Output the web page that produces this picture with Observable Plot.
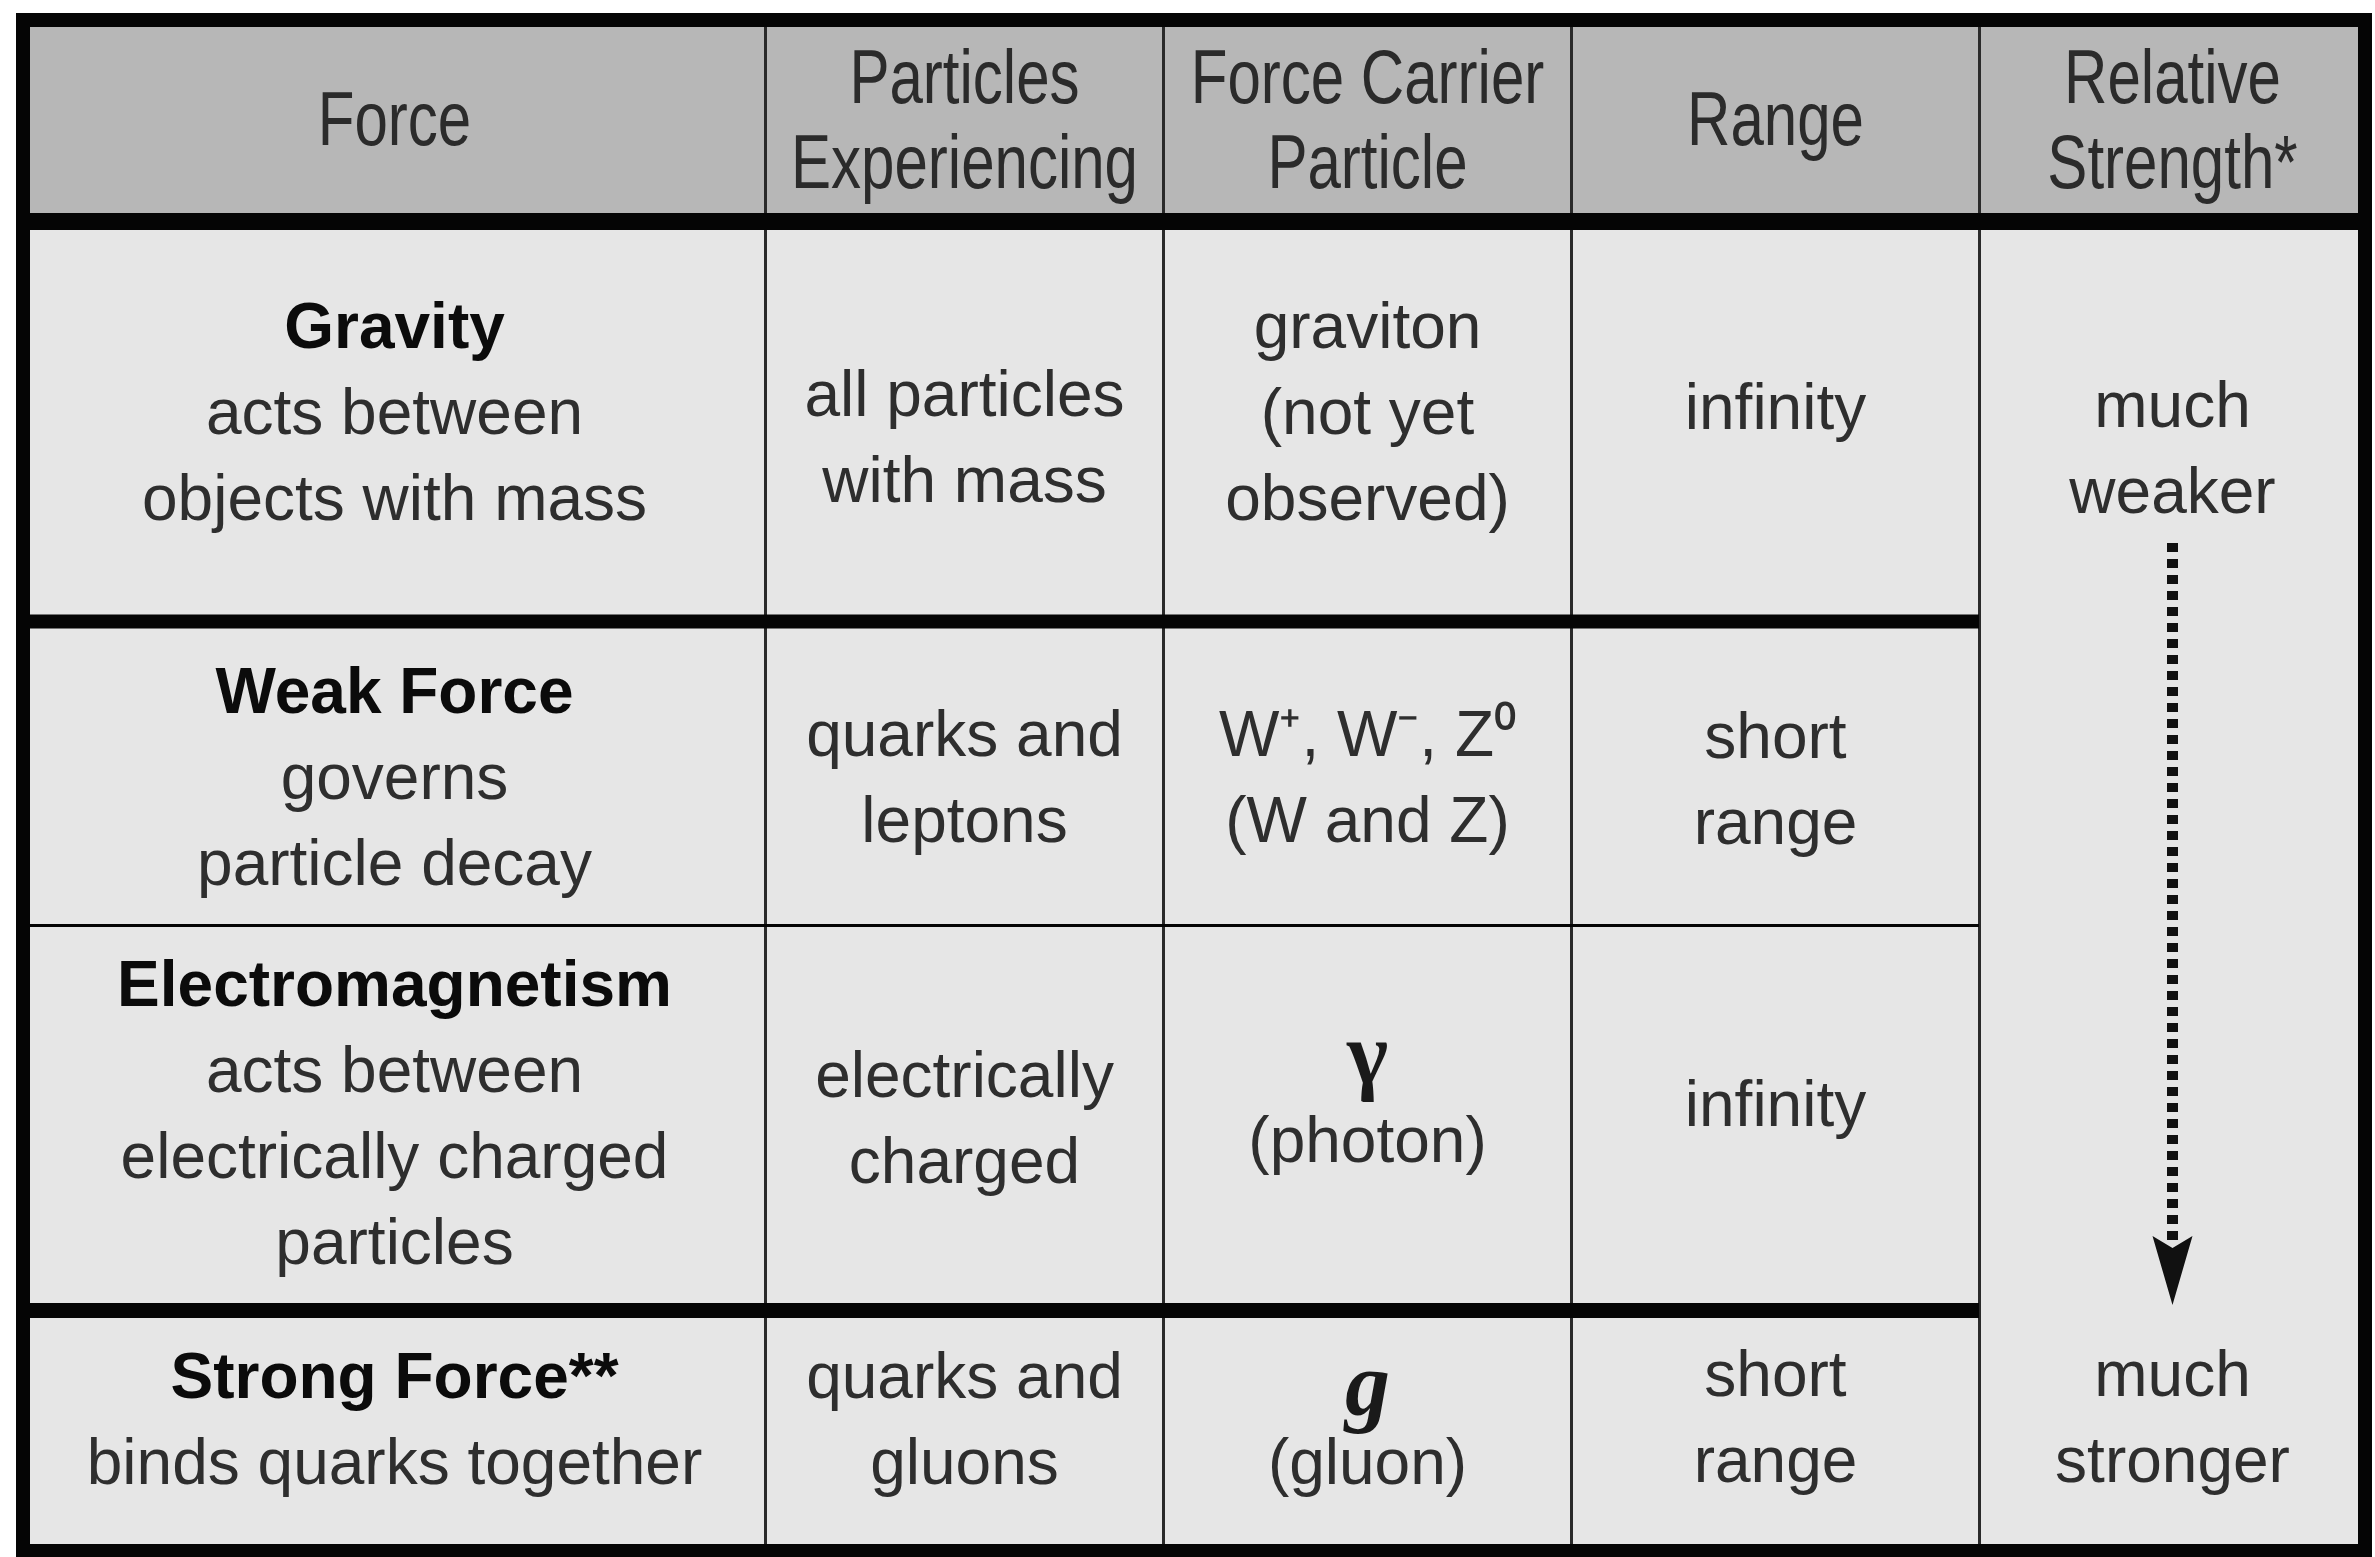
<!DOCTYPE html>
<html>
<head>
<meta charset="utf-8">
<script src="https://cdn.jsdelivr.net/npm/d3@7"></script>
<script src="https://cdn.jsdelivr.net/npm/@observablehq/plot@0.6"></script>
<style>
  html, body { margin: 0; padding: 0; background: #ffffff; overflow: hidden; }
  #chart svg { display: block; }
</style>
</head>
<body>
<div id="chart"></div>
<script>
// ---------------- DATA ----------------
const headers = [["Force"], ["Particles", "Experiencing"], ["Force Carrier", "Particle"], ["Range"], ["Relative", "Strength*"]];
const forces = ["Gravity", "Weak Force", "Electromagnetism", "Strong Force**"];
const descriptions = [
  ["acts between", "objects with mass"],
  ["governs", "particle decay"],
  ["acts between", "electrically charged", "particles"],
  ["binds quarks together"]
];
const particles = [["all particles", "with mass"], ["quarks and", "leptons"], ["electrically", "charged"], ["quarks and", "gluons"]];
const carriers = [["graviton", "(not yet", "observed)"], ["W\u207A, W\u207B, Z\u2070", "(W and Z)"], ["\u03B3", "(photon)"], ["g", "(gluon)"]];
const ranges = [["infinity"], ["short", "range"], ["infinity"], ["short", "range"]];
const strengthEnds = [["much", "weaker"], ["much", "stronger"]];

// ---------------- LAYOUT ----------------
const W = 2375, H = 1557;
const colEdges = [23, 765, 1163, 1571, 1979, 2365];
const rowEdges = [20, 221, 621, 925, 1310, 1551];
const lineStep = 86, headerStep = 85;
const symbolSteps = {2: 71, 3: 65};
const nudge = [[-8, 17, -8, -13], [5, 5, 5, 7], [-3, 2, -12, -12], [-10, -10, 0, -12]];
const strengthNudge = [28, -12];
const arrowGapTop = 51, arrowGapBottom = 71, headLen = 62;
const headerCondense = 0.79;
const symbolLines = new Set(["\u03B3", "g"]);

const cx = c => (colEdges[c] + colEdges[c + 1]) / 2;
const cy = r => (rowEdges[r] + rowEdges[r + 1]) / 2;
function place(lines, x, yc, step, kindOf) {
  const n = lines.length;
  return lines.map((t, i) => ({x, y: yc + (i - (n - 1) / 2) * step, text: t, kind: kindOf(i, t)}));
}

let texts = [];
headers.forEach((h, c) => { texts = texts.concat(place(h, cx(c), cy(0), headerStep, () => "header")); });
for (let r = 0; r < forces.length; r++) {
  const yc = cy(r + 1);
  texts = texts.concat(place([forces[r], ...descriptions[r]], cx(0), yc + nudge[r][0], lineStep, i => i === 0 ? "title" : "body"));
  texts = texts.concat(place(particles[r], cx(1), yc + nudge[r][1], lineStep, () => "body"));
  const cs = symbolLines.has(carriers[r][0]) ? symbolSteps[r] : lineStep;
  texts = texts.concat(place(carriers[r], cx(2), yc + nudge[r][2], cs, (i, t) => t === "\u03B3" ? "gamma" : (t === "g" && i === 0 ? "gluon" : "body")));
  texts = texts.concat(place(ranges[r], cx(3), yc + nudge[r][3], lineStep, () => "body"));
}
const topBlock = place(strengthEnds[0], cx(4), cy(1) + strengthNudge[0], lineStep, () => "body");
const botBlock = place(strengthEnds[1], cx(4), cy(4) + strengthNudge[1], lineStep, () => "body");
texts = texts.concat(topBlock, botBlock);

const arrowStart = topBlock[topBlock.length - 1].y + arrowGapTop;
const arrowTip = botBlock[0].y - arrowGapBottom;
const arrowLine = [{x: cx(4), y1: arrowStart, y2: arrowTip - headLen}];
const arrowHeadPt = [{x: cx(4), y: arrowTip}];
const arrowHead = {
  draw(ctx) {
    ctx.moveTo(0, 0);
    ctx.lineTo(-20, -69);
    ctx.lineTo(0, -57);
    ctx.lineTo(20, -69);
    ctx.closePath();
  }
};

const headerBg = [{x1: colEdges[0], x2: colEdges[5], y1: rowEdges[0], y2: rowEdges[1]}];
const bodyBg = [{x1: colEdges[0], x2: colEdges[5], y1: rowEdges[1], y2: rowEdges[5]}];
const vLines = colEdges.slice(1, -1).map(x => ({x, y1: rowEdges[0], y2: rowEdges[5]}));
const hLines = [
  {y: rowEdges[1], x1: colEdges[0], x2: colEdges[5], w: 17},
  {y: rowEdges[2], x1: colEdges[0], x2: colEdges[4], w: 14},
  {y: rowEdges[3], x1: colEdges[0], x2: colEdges[4], w: 3},
  {y: rowEdges[4], x1: colEdges[0], x2: colEdges[4], w: 15}
];
const frame = [{x1: colEdges[0], x2: colEdges[5], y1: rowEdges[0], y2: rowEdges[5]}];

const SANS = "'Liberation Sans', Arial, Helvetica, sans-serif";
const SERIF = "'Liberation Serif', 'Times New Roman', 'DejaVu Serif', serif";
const byKind = k => texts.filter(d => d.kind === k);

const chart = Plot.plot({
  width: W,
  height: H,
  margin: 0,
  x: {domain: [0, W], range: [0, W], axis: null},
  y: {domain: [0, H], range: [0, H], axis: null},
  style: {background: "#ffffff"},
  marks: [
    Plot.rect(headerBg, {x1: "x1", x2: "x2", y1: "y1", y2: "y2", fill: "#b7b7b7"}),
    Plot.rect(bodyBg, {x1: "x1", x2: "x2", y1: "y1", y2: "y2", fill: "#e6e6e6"}),
    Plot.ruleX(vLines, {x: "x", y1: "y1", y2: "y2", stroke: "#2a2a2a", strokeWidth: 3}),
    Plot.ruleY(hLines, {y: "y", x1: "x1", x2: "x2", stroke: "#050505", strokeWidth: "w"}),
    Plot.rect(frame, {x1: "x1", x2: "x2", y1: "y1", y2: "y2", fill: "none", stroke: "#050505", strokeWidth: 14}),
    Plot.text(byKind("header"), {x: "x", y: "y", text: "text", fontFamily: SANS, fontSize: 76, fill: "#2b2b2b"}),
    Plot.text(byKind("title"), {x: "x", y: "y", text: "text", fontFamily: SANS, fontSize: 64, fontWeight: "bold", fill: "#0b0b0b"}),
    Plot.text(byKind("body"), {x: "x", y: "y", text: "text", fontFamily: SANS, fontSize: 64, fill: "#2e2e2e"}),
    Plot.text(byKind("gamma"), {x: "x", y: "y", text: "text", fontFamily: SERIF, fontSize: 88, fontWeight: "bold", fill: "#1a1a1a", dy: -16}),
    Plot.text(byKind("gluon"), {x: "x", y: "y", text: "text", fontFamily: SERIF, fontSize: 90, fontWeight: "bold", fontStyle: "italic", fill: "#1a1a1a", dy: -12}),
    Plot.ruleX(arrowLine, {x: "x", y1: "y1", y2: "y2", stroke: "#111111", strokeWidth: 11, strokeDasharray: "9,7"}),
    Plot.dot(arrowHeadPt, {x: "x", y: "y", symbol: arrowHead, r: 10, fill: "#111111", stroke: "none"})
  ]
});

// condense the header lettering horizontally (the reference uses a condensed face)
const headerSet = new Set(headers.flat());
d3.select(chart).selectAll("text")
  .filter(function () { return headerSet.has(this.textContent); })
  .each(function () {
    const lx = parseFloat(this.getAttribute("x"));
    const ax = Number.isFinite(lx) ? lx : 0;
    const t = this.getAttribute("transform") || "";
    this.setAttribute("transform", `${t} translate(${ax},0) scale(${headerCondense},1) translate(${-ax},0)`.trim());
  });
document.getElementById("chart").appendChild(chart);
</script>
</body>
</html>
